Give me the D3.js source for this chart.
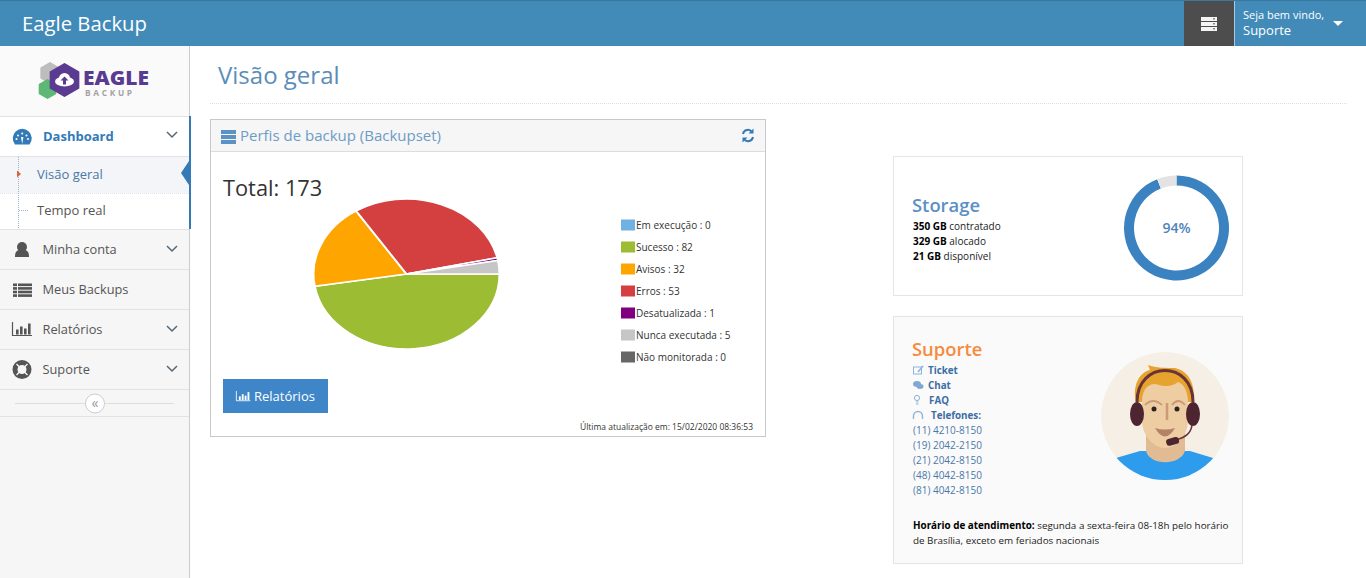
<!DOCTYPE html>
<html>
<head>
<meta charset="utf-8">
<style>
html, body { margin: 0; padding: 0; background: #fff; overflow: hidden; }
svg { display: block; }
text { font-family: "Open Sans", sans-serif; }
</style>
<script src="https://cdn.jsdelivr.net/npm/d3@7"></script>
</head>
<body>
<script>
const statusLabels = ['Em execução', 'Sucesso', 'Avisos', 'Erros', 'Desatualizada', 'Nunca executada', 'Não monitorada']
const statusValues = [0, 82, 32, 53, 1, 5, 0]
const statusColors = ['#6fb1e0', '#9bbc33', '#ffa500', '#d44040', '#800080', '#c6c6c6', '#666666']

const storageLabels = ['alocado', 'disponível']
const storageValues = [329, 21]
const storageColors = ['#3b83c0', '#e3e3e3']

const phones = ['(11) 4210-8150', '(19) 2042-2150', '(21) 2042-8150', '(48) 4042-8150', '(81) 4042-8150']
const menuLabels = ['Minha conta', 'Meus Backups', 'Relatórios', 'Suporte']
const menuArrows = [true, false, true, true]

const svg = d3.select('body').append('svg').attr('width', 1366).attr('height', 578)

function box(x, y, w, h, fill, stroke) {
    return svg.append('rect').attr('x', x).attr('y', y).attr('width', w).attr('height', h)
        .attr('fill', fill).attr('stroke', stroke || 'none')
}
function label(x, y, str, size, color, weight, parent) {
    return (parent || svg).append('text').attr('x', x).attr('y', y).text(str)
        .attr('font-size', size).attr('fill', color).attr('font-weight', weight || 400)
}
function hline(x1, x2, y, color, dash) {
    return svg.append('line').attr('x1', x1).attr('x2', x2).attr('y1', y).attr('y2', y)
        .attr('stroke', color).attr('stroke-dasharray', dash || null)
}
function chevron(x, y) {
    svg.append('path').attr('d', `M${x - 5},${y - 3}L${x},${y + 2}L${x + 5},${y - 3}`)
        .attr('fill', 'none').attr('stroke', '#5b6770').attr('stroke-width', 1.5)
}
function hexagon(cx, cy, r, fill) {
    const pts = d3.range(6).map(i => {
        const a = Math.PI / 3 * i + Math.PI / 6
        return [cx + r * Math.cos(a), cy + r * Math.sin(a)]
    })
    svg.append('polygon').attr('points', pts.join(' ')).attr('fill', fill)
        .attr('stroke', fill).attr('stroke-width', 2).attr('stroke-linejoin', 'round')
}
function rackIcon(x, y, w, color) {
    [0, 5, 10].forEach(d => box(x, y + d, w, 4, color))
    ;[0, 5, 10].forEach(d => box(x + w - 4, y + d + 1, 2, 1.5, '#888'))
}
// s scales the 20x14 icon down for the button
function barsIcon(x, y, color, s) {
    const g = svg.append('g').attr('transform', `translate(${x},${y}) scale(${s})`)
    g.append('path').attr('d', 'M0.5,0V13.5H20').attr('fill', 'none').attr('stroke', color).attr('stroke-width', 1.2)
    ;[[4, 5], [8, 8], [12, 6], [16, 11]].forEach(b => {
        g.append('rect').attr('x', b[0]).attr('y', 12.5 - b[1]).attr('width', 2.6).attr('height', b[1]).attr('fill', color)
    })
}

// header
box(0, 0, 1366, 46, '#428bb9')
hline(0, 1366, 0.5, '#39789f')
label(22, 31, 'Eagle Backup', 20.3, '#fff')
box(1184, 1, 50, 45, '#4d4d4d')
rackIcon(1201, 17, 16, '#f4f4f4')
hline(1234.5, 1234.5, 1, '#a9cbe0').attr('y2', 46)
label(1243, 19, 'Seja bem vindo,', 11, '#fff')
label(1243, 35, 'Suporte', 13, '#fff')
svg.append('path').attr('d', 'M1333,21h10l-5,5z').attr('fill', '#fff')

// sidebar
box(0, 46, 189, 532, '#f6f6f6')
box(0, 46, 189, 70, '#fafafa')
box(0, 116, 189, 113, '#fff')
box(0, 157, 189, 36, '#f3f5f9')
box(189, 46, 1, 532, '#ccc')
box(189, 116, 2, 113, '#337ab7')
svg.append('path').attr('d', 'M181,173L189,161V185Z').attr('fill', '#337ab7')
;[116.5, 156.5, 229.5, 269.5, 309.5, 349.5, 389.5, 416.5].forEach(y => hline(0, 189, y, '#e2e2e2'))
hline(0, 189, 193.5, '#dfe5ee', '1,1')
svg.append('line').attr('x1', 18.5).attr('x2', 18.5).attr('y1', 157).attr('y2', 229).attr('stroke', '#9db4cc').attr('stroke-dasharray', '1,1')
hline(19, 28, 210.5, '#9db4cc', '1,1')
svg.append('path').attr('d', 'M17,170.5l4,3.5l-4,3.5z').attr('fill', '#d9633a')

// logo
hexagon(50, 73, 10, '#bdbdbd')
hexagon(47.5, 89, 9, '#5cb874')
hexagon(64.5, 80, 16, '#5b3a91')
svg.append('circle').attr('cx', 64.5).attr('cy', 78.5).attr('r', 5.5).attr('fill', '#fff')
svg.append('ellipse').attr('cx', 64.5).attr('cy', 81.5).attr('rx', 9.5).attr('ry', 5).attr('fill', '#fff')
svg.append('path').attr('d', 'M64.5,76.5l4,4h-2.5v4h-3v-4h-2.5z').attr('fill', '#5b3a91')
label(83, 85, 'EAGLE', 18.5, '#5b3a91', 800).attr('textLength', 66).attr('lengthAdjust', 'spacingAndGlyphs')
label(85, 96, 'BACKUP', 8.3, '#a3a3a3', 700).attr('letter-spacing', 2.7)

// menu
svg.append('path').attr('d', 'M15,144.5A9.5,9.5 0 1 1 29.5,144.5Z').attr('fill', '#337ab7')
svg.append('path').attr('d', 'M22.2,144l-1.2,-7h2.4z').attr('fill', '#fff')
;[[16.5, 139], [18, 135.5], [22.2, 133.5], [26.5, 135.5], [28, 139]].forEach(p => {
    svg.append('circle').attr('cx', p[0]).attr('cy', p[1]).attr('r', 1).attr('fill', '#fff')
})
label(43, 141, 'Dashboard', 13, '#337ab7', 700)
chevron(172, 135)
label(37, 179, 'Visão geral', 13, '#4a78a8')
label(37, 215, 'Tempo real', 13, '#555')

const menuY = d3.scalePoint().domain(menuLabels).range([254, 374])
menuLabels.forEach((d, i) => {
    label(42.5, menuY(d), d, 12.8, '#555')
    if (menuArrows[i]) chevron(172, menuY(d) - 5)
})
// person
svg.append('circle').attr('cx', 22).attr('cy', 247).attr('r', 5).attr('fill', '#555')
svg.append('path').attr('d', 'M15,257c0,-7 3,-7 7,-7s7,0 7,7z').attr('fill', '#555')
// list
d3.range(4).forEach(i => {
    box(13, 283.5 + i * 3.6, 4, 2.6, '#555')
    box(18, 283.5 + i * 3.6, 14, 2.6, '#555')
})
barsIcon(12, 322, '#555', 1)
// lifebuoy
svg.append('circle').attr('cx', 22).attr('cy', 369.5).attr('r', 7).attr('fill', 'none').attr('stroke', '#555').attr('stroke-width', 5)
svg.append('path').attr('d', 'M16.5,364L20,367.5M27.5,364L24,367.5M16.5,375L20,371.5M27.5,375L24,371.5').attr('stroke', '#f6f6f6').attr('stroke-width', 1.4)
// collapse
hline(15, 174, 403.5, '#ddd')
svg.append('circle').attr('cx', 95).attr('cy', 403.5).attr('r', 9.5).attr('fill', '#fff').attr('stroke', '#ccc')
label(95, 408, '«', 14, '#999').attr('text-anchor', 'middle')

// page title
label(218, 84, 'Visão geral', 24, '#5b8db8')
hline(210, 1347, 103.5, '#ddd', '1,1')

// backupset card
box(210.5, 119.5, 555, 317, '#fff', '#c9c9c9')
box(211, 120, 554, 31.5, '#f6f6f6')
hline(211, 765, 151.5, '#ddd')
rackIcon(221, 130, 15, '#5b93c7')
label(240, 141, 'Perfis de backup (Backupset)', 15, '#6d9cc6')
// refresh icon
svg.append('path').attr('d', 'M743,134a5,5 0 0 1 9,-2M753,137a5,5 0 0 1 -9,2')
    .attr('fill', 'none').attr('stroke', '#337ab7').attr('stroke-width', 2)
svg.append('path').attr('d', 'M753.5,128.5v5h-5zM742.5,142.5v-5h5z').attr('fill', '#337ab7')
label(223, 196, 'Total: ' + d3.sum(statusValues), 21.8, '#333')

// pie goes clockwise from 3 o'clock, flattened vertically
const pieRx = 93, pieRy = 75
const pie = d3.pie().sort(null)
    .startAngle(Math.PI / 2).endAngle(Math.PI / 2 + 2 * Math.PI)
const arc = d3.arc().innerRadius(0).outerRadius(pieRx)
svg.append('g')
    .attr('transform', `translate(406.5,274) scale(1,${pieRy / pieRx})`)
    .selectAll('path')
    .data(pie(statusValues))
    .enter().append('path')
        .attr('d', arc)
        .attr('fill', function(d, i) { return statusColors[i] })
        .attr('stroke', function(d) { return d.value > 0 ? '#fff' : 'none' })
        .attr('stroke-width', 2)

const legendY = d3.scaleBand().domain(statusLabels).range([214, 368]).paddingInner(0.5).paddingOuter(0.25)
const legend = svg.selectAll('g.legend')
    .data(statusLabels)
    .enter().append('g')
        .attr('class', 'legend')
        .attr('transform', function(d) { return `translate(621,${legendY(d)})` })
legend.append('rect')
    .attr('width', 14).attr('height', legendY.bandwidth())
    .attr('fill', function(d, i) { return statusColors[i] })
legend.append('text')
    .attr('x', 15).attr('y', 9.5)
    .attr('font-size', 10).attr('fill', '#333')
    .text(function(d, i) { return d + ' : ' + statusValues[i] })

box(223, 379, 105, 34, '#3f86c8')
barsIcon(236, 391, '#fff', 0.72)
label(254, 401, 'Relatórios', 13, '#fff')
label(753, 430, 'Última atualização em: 15/02/2020 08:36:53', 9.3, '#333')
    .attr('text-anchor', 'end').attr('textLength', 173).attr('lengthAdjust', 'spacingAndGlyphs')

// storage box
box(893.5, 156.5, 349, 139, '#fff', '#ccc').attr('stroke-dasharray', '1,1')
label(912, 212, 'Storage', 18.4, '#5b90c4', 600)
const storageTotal = d3.sum(storageValues)
const storageLines = [[storageTotal + ' GB', ' contratado'], [storageValues[0] + ' GB', ' ' + storageLabels[0]], [storageValues[1] + ' GB', ' ' + storageLabels[1]]]
storageLines.forEach((d, i) => {
    const t = label(913, 230 + i * 15, '', 10, '#222')
    t.append('tspan').attr('font-weight', 700).attr('fill', '#000').text(d[0])
    t.append('tspan').text(d[1])
})
const donut = d3.pie().sort(null)
const donutArc = d3.arc().innerRadius(42.5).outerRadius(52.5)
svg.append('g').attr('transform', 'translate(1176.5,228)')
    .selectAll('path')
    .data(donut(storageValues))
    .enter().append('path')
        .attr('d', donutArc)
        .attr('fill', function(d, i) { return storageColors[i] })
label(1176.5, 233, Math.round(storageValues[0] / storageTotal * 100) + '%', 14, '#4f83b8', 600).attr('text-anchor', 'middle')

// support box
box(893.5, 316.5, 349, 247, '#fafafa', '#ccc').attr('stroke-dasharray', '1,1')
label(912, 356, 'Suporte', 18.4, '#f68b3d', 600)
const links = [['Ticket', 928], ['Chat', 928], ['FAQ', 929], ['Telefones:', 931]]
links.forEach((d, i) => {
    label(d[1], 374 + i * 15, d[0], 9.8, '#3c6ea5', 700)
})
// small link icons
box(913.5, 367, 8, 7, 'none', '#8fb4d9')
svg.append('path').attr('d', 'M918,372l5,-6').attr('stroke', '#8fb4d9').attr('stroke-width', 1.6)
svg.append('ellipse').attr('cx', 917).attr('cy', 384).attr('rx', 4).attr('ry', 3).attr('fill', '#7fa9d3')
svg.append('ellipse').attr('cx', 920).attr('cy', 386.5).attr('rx', 3.5).attr('ry', 2.4).attr('fill', '#7fa9d3')
svg.append('circle').attr('cx', 917).attr('cy', 398).attr('r', 2.6).attr('fill', 'none').attr('stroke', '#8fb4d9')
svg.append('path').attr('d', 'M916,402h2.5M916,404h2.5').attr('stroke', '#8fb4d9')
svg.append('path').attr('d', 'M913.5,419v-3a4.5,4.5 0 0 1 9,0v3').attr('fill', 'none').attr('stroke', '#8fb4d9').attr('stroke-width', 1.4)
phones.forEach((d, i) => {
    label(913, 434 + i * 15, d, 10, '#4a78a8')
})
const hours = label(913, 529, '', 9.85, '#222')
hours.append('tspan').attr('font-weight', 700).attr('fill', '#000').text('Horário de atendimento:')
hours.append('tspan').text(' segunda a sexta-feira 08-18h pelo horário')
label(913, 544, 'de Brasília, exceto em feriados nacionais', 9.85, '#222')

// avatar
const clipId = 'avatar-clip'
svg.append('clipPath').attr('id', clipId).append('circle').attr('cx', 1165).attr('cy', 416).attr('r', 64)
const av = svg.append('g').attr('clip-path', `url(#${clipId})`)
av.append('circle').attr('cx', 1165).attr('cy', 416).attr('r', 64).attr('fill', '#f5efe6')
av.append('path').attr('d', 'M1116,458L1140,451H1190L1213,458L1218,490H1112Z').attr('fill', '#2d9cec')
av.append('path').attr('d', 'M1146,425H1185V451C1180,466 1150,466 1146,451Z').attr('fill', '#e0bb94')
// hair
av.append('path').attr('d', 'M1136,402C1132,385 1140,372 1150,370L1148,365C1156,368 1166,368 1175,368C1188,371 1195,382 1194,402Z').attr('fill', '#e6a32e')
// face
av.append('path').attr('d', 'M1142,402C1142,392 1146,384 1155,384C1165,387 1172,387 1178,382C1184,384 1188,392 1188,402V420C1188,436 1176,448 1165,448C1154,448 1142,436 1142,420Z').attr('fill', '#efcda3')
// headset
av.append('path').attr('d', 'M1137,402C1137,360 1193,360 1193,402').attr('fill', 'none').attr('stroke', '#6a3436').attr('stroke-width', 3)
av.append('ellipse').attr('cx', 1137).attr('cy', 414).attr('rx', 7).attr('ry', 12).attr('fill', '#4c2530')
av.append('ellipse').attr('cx', 1193).attr('cy', 414).attr('rx', 7).attr('ry', 12).attr('fill', '#4c2530')
av.append('path').attr('d', 'M1192,425C1191,433 1186,437 1176,440').attr('fill', 'none').attr('stroke', '#6a3436').attr('stroke-width', 1.6)
av.append('rect').attr('x', 1166).attr('y', 438).attr('width', 13).attr('height', 7).attr('rx', 3).attr('fill', '#4c2530').attr('transform', 'rotate(-15 1172 441)')
// features
av.append('circle').attr('cx', 1154).attr('cy', 409).attr('r', 2.5).attr('fill', '#2e2320')
av.append('circle').attr('cx', 1177).attr('cy', 409).attr('r', 2.5).attr('fill', '#2e2320')
av.append('path').attr('d', 'M1145,405Q1153,397 1162,405M1172,405Q1178,397 1185,405').attr('fill', 'none').attr('stroke', '#c99b76').attr('stroke-width', 1.8)
av.append('path').attr('d', 'M1167,403V420').attr('fill', 'none').attr('stroke', '#c99b76').attr('stroke-width', 2.6)
av.append('path').attr('d', 'M1155,428Q1165,431 1175,428Q1165,445 1155,428Z').attr('fill', '#b38269')
</script>
</body>
</html>
